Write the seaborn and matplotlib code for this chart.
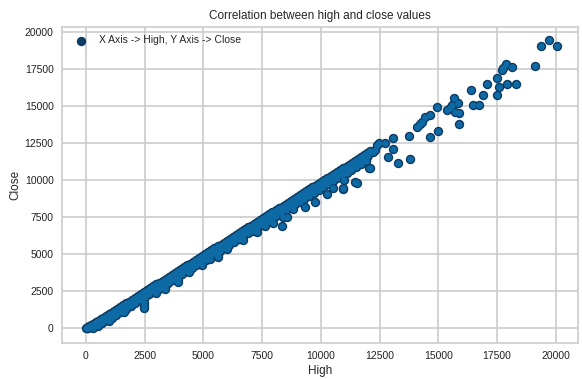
import matplotlib
matplotlib.use("Agg")
import matplotlib.pyplot as plt
import seaborn as sns
import pandas as pd

# Main band: days where the close sits near the daily high
band_high = [0, 40, 90, 150, 230, 320, 420, 510, 620, 730, 850, 960, 1080, 1200, 1320,
             1450, 1570, 1700, 1830, 1960, 2090, 2220, 2350, 2480, 2610, 2740, 2870,
             3000, 3130, 3260, 3390, 3520, 3650, 3780, 3910, 4040, 4170, 4300, 4430,
             4560, 4690, 4820, 4950, 5080, 5210, 5340, 5470, 5600, 5730, 5860, 5990,
             6120, 6250, 6380, 6510, 6640, 6770, 6900, 7030, 7160, 7290, 7420, 7550,
             7680, 7810, 7940, 8070, 8200, 8330, 8460, 8590, 8720, 8850, 8980, 9110,
             9240, 9370, 9500, 9630, 9760, 9890, 10020, 10150, 10280, 10410, 10540,
             10670, 10800, 10930, 11060, 11190, 11320, 11450, 11580, 11710, 11840,
             11970, 12100]
band_close = [0, 38, 88, 147, 226, 316, 413, 503, 610, 722, 838, 948, 1066, 1183, 1305,
              1430, 1552, 1678, 1808, 1935, 2066, 2190, 2322, 2450, 2580, 2705, 2836,
              2962, 3094, 3218, 3350, 3478, 3604, 3736, 3862, 3992, 4118, 4250, 4376,
              4506, 4632, 4764, 4890, 5020, 5148, 5276, 5404, 5534, 5660, 5792, 5918,
              6048, 6176, 6304, 6432, 6562, 6688, 6820, 6946, 7076, 7202, 7332, 7460,
              7590, 7716, 7846, 7974, 8104, 8230, 8360, 8488, 8616, 8744, 8872, 9002,
              9128, 9258, 9386, 9516, 9642, 9772, 9900, 10030, 10156, 10286, 10414,
              10544, 10670, 10800, 10928, 11056, 11184, 11314, 11440, 11570, 11696,
              11826, 11950]

# Middle of the band
mid_high = [50, 150, 250, 350, 450, 550, 650, 750, 850, 950, 1050, 1150, 1250, 1350,
            1450, 1550, 1650, 1750, 1850, 1950, 2050, 2150, 2250, 2350, 2450, 2550,
            2650, 2750, 2850, 2950, 3050, 3150, 3250, 3350, 3450, 3550, 3650, 3750,
            3850, 3950, 4050, 4150, 4250, 4350, 4450, 4550, 4650, 4750, 4850, 4950,
            5050, 5150, 5250, 5350, 5450, 5550, 5650, 5750, 5850, 5950, 6050, 6150,
            6250, 6350, 6450, 6550, 6650, 6750, 6850, 6950, 7050, 7150, 7250, 7350,
            7450, 7550, 7650, 7750, 7850, 7950, 8050, 8150, 8250, 8350, 8450, 8550,
            8650, 8750, 8850, 8950, 9050, 9150, 9250, 9350, 9450, 9550, 9650, 9750,
            9850, 9950, 10050, 10150, 10250, 10350, 10450, 10550, 10650, 10750, 10850,
            10950, 11050, 11150, 11250, 11350, 11450, 11550, 11650, 11750, 11850, 11950]
mid_close = [15, 60, 110, 170, 268, 367, 465, 564, 662, 761, 859, 958, 1056, 1155,
             1253, 1352, 1450, 1549, 1647, 1746, 1844, 1943, 2041, 2140, 2238, 2337,
             2435, 2534, 2632, 2731, 2829, 2928, 3026, 3125, 3223, 3322, 3420, 3519,
             3617, 3716, 3814, 3913, 4011, 4110, 4208, 4307, 4405, 4504, 4602, 4701,
             4799, 4898, 4996, 5095, 5193, 5292, 5390, 5489, 5587, 5686, 5784, 5883,
             5981, 6080, 6178, 6277, 6375, 6474, 6572, 6671, 6769, 6868, 6966, 7065,
             7163, 7262, 7360, 7459, 7557, 7656, 7754, 7853, 7951, 8050, 8148, 8247,
             8345, 8444, 8542, 8641, 8739, 8838, 8936, 9035, 9133, 9232, 9330, 9429,
             9527, 9626, 9724, 9823, 9921, 10020, 10118, 10217, 10315, 10414, 10512,
             10611, 10709, 10808, 10906, 11005, 11103, 11202, 11300, 11399, 11497, 11596]

# Lower edge of the band: closes a few hundred under the high
lower_high = [100, 300, 500, 700, 900, 1100, 1300, 1500, 1700, 1900, 2100, 2300, 2500,
              2700, 2900, 3100, 3300, 3500, 3700, 3900, 4100, 4300, 4500, 4700, 4900,
              5100, 5300, 5500, 5700, 5900, 6100, 6300, 6500, 6700, 6900, 7100, 7300,
              7500, 7700, 7900, 8100, 8300, 8500, 8700, 8900, 9100, 9300, 9500, 9700,
              9900, 10100, 10300, 10500, 10700, 10900, 11100, 11300, 11500, 11700, 11900]
lower_close = [20, 40, 140, 336, 532, 728, 924, 1120, 1316, 1512, 1708, 1904, 2100,
               2296, 2492, 2688, 2884, 3080, 3276, 3472, 3668, 3864, 4060, 4256, 4452,
               4648, 4844, 5040, 5236, 5432, 5628, 5824, 6020, 6216, 6412, 6608, 6804,
               7000, 7196, 7392, 7588, 7784, 7980, 8176, 8372, 8568, 8764, 8960, 9156,
               9352, 9548, 9744, 9940, 10136, 10332, 10528, 10724, 10920, 11116, 11312]

# Sharp intraday drops below the band
drop_high = [1000, 1600, 2460, 2465, 2469, 3000, 3350, 3363, 3920, 3929, 4400, 4925,
             4950, 5300, 5620, 5632, 6000, 6700, 7266, 7600, 7974, 8331, 8400, 8543,
             8800, 9323, 9749, 10247, 10500, 10954, 10960, 11000, 11452, 11525, 12060,
             12090]
drop_close = [500, 1100, 1700, 1500, 1352, 2400, 2800, 2637, 3300, 3151, 3800, 4250,
              4400, 4650, 5000, 4841, 5350, 6000, 6531, 6900, 7099, 6917, 7546, 7546,
              8050, 8181, 8560, 9080, 9500, 9398, 9466, 10000, 9912, 9845, 10818, 10818]

# Sparse points at the top of the range
peak_high = [12000, 12230, 12300, 12375, 12473, 12729, 13082, 13082, 12843, 13297,
             13793, 13764, 14079, 14220, 14290, 14432, 14645, 14645, 14998, 14955,
             15355, 15500, 15600, 15840, 15700, 15893, 15893, 16462, 16730, 15680,
             16403, 16888, 17058, 17484, 17582, 17510, 17935, 18318, 17697, 17880,
             18122, 17750, 19127, 19357, 19695, 20037]
peak_close = [11700, 11940, 12050, 12393, 12500, 12550, 12846, 12123, 11562, 11156,
              11426, 13022, 13631, 13800, 13969, 14307, 14416, 12914, 13340, 14942,
              14760, 14900, 15100, 15230, 14600, 13813, 14578, 15118, 15118, 15592,
              16092, 15774, 16497, 16903, 16315, 15774, 16540, 16540, 17464, 17850,
              17647, 17600, 17735, 19087, 19490, 19067]

df = pd.DataFrame({
    "High": band_high + mid_high + lower_high + drop_high + peak_high,
    "Close": band_close + mid_close + lower_close + drop_close + peak_close,
})

sns.set_style("whitegrid", {
    "grid.color": "#cccccc",
    "axes.edgecolor": "#cccccc",
})
plt.rcParams["font.family"] = ["Liberation Sans", "DejaVu Sans"]

fig = plt.figure(figsize=(5.82, 3.79), dpi=100)
ax = fig.add_axes([0.1065, 0.095, 0.8865, 0.834])

# Outlined markers, then the same points filled again on top so that
# overlapping markers merge into one solid band with a dark rim
sns.scatterplot(data=df, x="High", y="Close", ax=ax, s=32,
                color="#0e6aa5", edgecolor="#0c3b64", linewidth=1.1,
                label="X Axis -> High, Y Axis -> Close")
sns.scatterplot(data=df, x="High", y="Close", ax=ax, s=19,
                color="#0e6aa5", linewidth=0, legend=False)

ax.set_xticks([0, 2500, 5000, 7500, 10000, 12500, 15000, 17500, 20000])
ax.set_yticks([0, 2500, 5000, 7500, 10000, 12500, 15000, 17500, 20000])
ax.set_xlim(-1020, 20940)
ax.set_ylim(-994, 20370)
ax.grid(True, color="#cccccc", linewidth=1.2)
for sp in ax.spines.values():
    sp.set_color("#cccccc")
    sp.set_linewidth(1.2)
ax.tick_params(axis="both", labelsize=7.5, length=0, pad=6, colors="#222222")

ax.set_title("Correlation between high and close values", fontsize=8.5, pad=6)
ax.set_xlabel("High", fontsize=8.5, labelpad=3)
ax.set_ylabel("Close", fontsize=8.5, labelpad=2)

leg = ax.legend(loc="upper left", frameon=False, fontsize=7.5,
                handletextpad=0.8, borderaxespad=0.4)
for h in leg.legend_handles:
    h.set_facecolor("#0c3b64")

fig.savefig("out.png", dpi=100)
